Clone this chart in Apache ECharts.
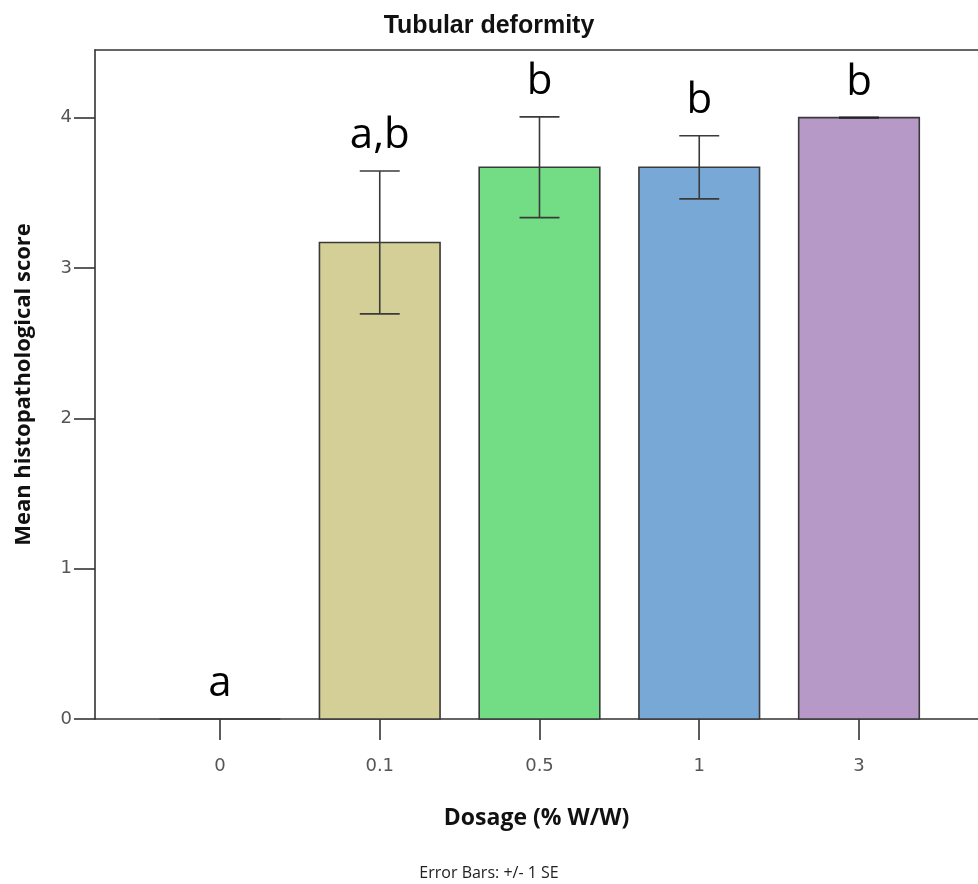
<!DOCTYPE html>
<html>
<head>
<meta charset="utf-8">
<title>Tubular deformity</title>
<script src="https://cdn.jsdelivr.net/npm/echarts@6/dist/echarts.min.js"></script>
<style>
  html, body { margin: 0; padding: 0; background: #ffffff; }
  #chart { width: 978px; height: 884px; }
</style>
</head>
<body>
<div id="chart"></div>
<script>
// Dosage groups and their mean scores with +/- 1 SE
const categories = ['0', '0.1', '0.5', '1', '3'];
const means = [0, 3.17, 3.67, 3.67, 4.0];
const stdErrors = [0, 0.475, 0.335, 0.21, 0];
const letters = ['a', 'a,b', 'b', 'b', 'b'];
const yTicks = [0, 1, 2, 3, 4];
const xTicks = [0, 1, 2, 3, 4];

const barColors = ['#d3cf96', '#d3cf96', '#72dd85', '#78a8d6', '#b799c7'];
const edgeColor = '#3a3a3a';
const BAR_W = 0.755;  // bar width, in category units
const CAP_W = 0.25;   // error-bar cap width, in category units

const chart = echarts.init(document.getElementById('chart'), null, { renderer: 'canvas' });

const seriesData = categories.map((c, i) => [i, means[i], stdErrors[i]]);

function renderBar(params, api) {
  const i = api.value(0);
  const m = api.value(1);
  const se = api.value(2);
  const base = api.coord([i, 0]);
  const top = api.coord([i, m]);
  const w = api.size([BAR_W, 0])[0];
  const capW = api.size([CAP_W, 0])[0];
  const hi = api.coord([i, m + se]);
  const lo = api.coord([i, m - se]);
  const children = [{
    type: 'rect',
    shape: { x: base[0] - w / 2, y: top[1], width: w, height: base[1] - top[1] },
    style: { fill: barColors[params.dataIndex], stroke: edgeColor, lineWidth: 1.6 }
  }];
  if (se > 0) {
    children.push(
      { type: 'line', shape: { x1: hi[0], y1: hi[1], x2: lo[0], y2: lo[1] },
        style: { stroke: edgeColor, lineWidth: 1.6 } },
      { type: 'line', shape: { x1: hi[0] - capW / 2, y1: hi[1], x2: hi[0] + capW / 2, y2: hi[1] },
        style: { stroke: edgeColor, lineWidth: 1.6 } },
      { type: 'line', shape: { x1: lo[0] - capW / 2, y1: lo[1], x2: lo[0] + capW / 2, y2: lo[1] },
        style: { stroke: edgeColor, lineWidth: 1.6 } }
    );
  } else if (m > 0) {
    children.push(
      { type: 'line', shape: { x1: hi[0] - capW / 2, y1: hi[1], x2: hi[0] + capW / 2, y2: hi[1] },
        style: { stroke: '#222', lineWidth: 2.2 } }
    );
  }
  children.push({
    type: 'text',
    style: {
      text: letters[params.dataIndex],
      x: hi[0], y: hi[1] - 14,
      align: 'center', verticalAlign: 'bottom',
      fill: '#000', font: '42px "Open Sans"'
    }
  });
  return { type: 'group', children: children };
}

const option = {
  animation: false,
  backgroundColor: '#ffffff',
  title: [
    {
      text: 'Tubular deformity',
      left: 'center', top: 9,
      textStyle: { fontFamily: 'Liberation Sans', fontWeight: 'bold', fontSize: 25, color: '#111' }
    },
    {
      text: 'Error Bars: +/- 1 SE',
      left: 'center', top: 860,
      textStyle: { fontFamily: 'Open Sans', fontWeight: 'normal', fontSize: 16, color: '#222' }
    }
  ],
  grid: { left: 95, right: 0, top: 50, bottom: 165, containLabel: false },
  xAxis: [
    {
      type: 'value',
      min: -0.7825, max: 4.745,
      position: 'bottom',
      name: 'Dosage (% W/W)',
      nameLocation: 'middle',
      nameGap: 88,
      nameTextStyle: { fontFamily: 'Open Sans', fontWeight: 'bold', fontSize: 23, color: '#111' },
      splitLine: { show: false },
      axisLine: { show: true, onZero: false, lineStyle: { color: '#333', width: 1.6 } },
      axisTick: { show: true, length: 21, customValues: xTicks,
                  lineStyle: { color: '#333', width: 1.6 } },
      axisLabel: {
        customValues: xTicks,
        formatter: v => categories[Math.round(v)],
        margin: 38, fontFamily: 'DejaVu Sans', fontSize: 18, color: '#555'
      }
    },
    {
      type: 'value',
      min: -0.7825, max: 4.745,
      position: 'top',
      splitLine: { show: false },
      axisLine: { show: true, onZero: false, lineStyle: { color: '#333', width: 1.6 } },
      axisTick: { show: false },
      axisLabel: { show: false }
    }
  ],
  yAxis: {
    type: 'value',
    min: 0, max: 4.45,
    name: 'Mean histopathological score',
    nameLocation: 'middle',
    nameGap: 60,
    nameRotate: 90,
    nameTextStyle: { fontFamily: 'Open Sans', fontWeight: 'bold', fontSize: 22, color: '#111' },
    splitLine: { show: false },
    axisLine: { show: true, onZero: false, lineStyle: { color: '#333', width: 1.6 } },
    axisTick: { show: true, length: 21, customValues: yTicks,
                lineStyle: { color: '#333', width: 1.6 } },
    axisLabel: {
      customValues: yTicks,
      margin: 23, fontFamily: 'DejaVu Sans', fontSize: 18, color: '#555'
    }
  },
  series: [{
    type: 'custom',
    xAxisIndex: 0,
    renderItem: renderBar,
    encode: { x: 0, y: 1 },
    data: seriesData
  }]
};

chart.setOption(option);
</script>
</body>
</html>
